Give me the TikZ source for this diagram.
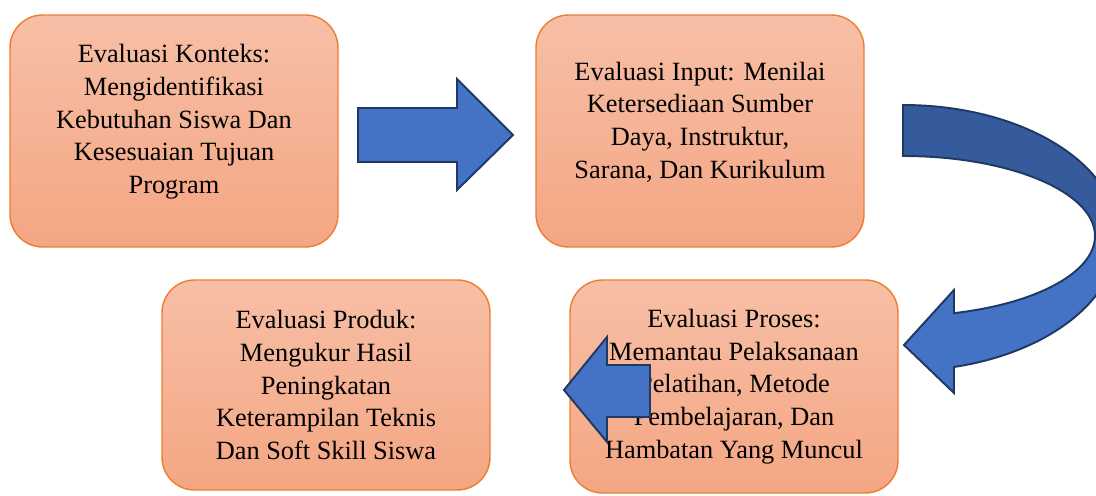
\documentclass[tikz,border=0pt]{standalone}
\usepackage{fontspec}
\setmainfont{Liberation Serif}
\definecolor{boxtop}{HTML}{F7BFA6}
\definecolor{boxbottom}{HTML}{F4A683}
\definecolor{boxline}{HTML}{ED7D31}
\definecolor{arrowblue}{HTML}{4472C4}
\definecolor{arrowdark}{HTML}{365B9C}
\definecolor{arrowline}{HTML}{203864}
\begin{document}
\begin{tikzpicture}[x=0.02cm, y=-0.02cm,
    box/.style={draw=boxline, line width=0.8pt, rounded corners=0.65cm,
      top color=boxtop, bottom color=boxbottom, minimum width=6.56cm, inner sep=0pt},
    txt/.style={align=center, font=\fontsize{15}{18.6}\selectfont},
    blockarrow/.style={fill=arrowblue, draw=arrowline, line width=1.1pt, line join=miter}]
  \useasboundingbox (0,0) rectangle (1096,496);

  % Evaluation boxes
  \node (konteks) [box, minimum height=4.64cm] at (174,131) {};
  \node (input)   [box, minimum height=4.64cm] at (700,131) {};
  \node (produk)  [box, minimum height=4.2cm]  at (326,385) {};
  \node (proses)  [box, minimum height=4.26cm] at (734,386.5) {};

  % Box texts
  \node (tkonteks) [txt] at ([yshift=0.18cm]konteks.center) {Evaluasi Konteks:\\Mengidentifikasi\\Kebutuhan Siswa Dan\\Kesesuaian Tujuan\\Program};
  \node (tinput) [txt] at ([yshift=0.18cm]input.center) {Evaluasi Input: Menilai\\Ketersediaan Sumber\\Daya, Instruktur,\\Sarana, Dan Kurikulum};
  \node (tproduk) [txt] at (produk.center) {Evaluasi Produk:\\Mengukur Hasil\\Peningkatan\\Keterampilan Teknis\\Dan Soft Skill Siswa};
  \node (tproses) [txt] at (proses.center) {Evaluasi Proses:\\Memantau Pelaksanaan\\Pelatihan, Metode\\Pembelajaran, Dan\\Hambatan Yang Muncul};

  % Block arrows
  \draw[blockarrow] (358,108) -- (457,108) -- (457,79) -- (513,135) -- (457,190)
    -- (457,162) -- (358,162) -- cycle;
  \draw[blockarrow] (650,365) -- (607,365) -- (607,337) -- (564,390) -- (607,442)
    -- (607,417) -- (650,417) -- cycle;

  % Curved arrow
  \draw[blockarrow, fill=arrowdark] (903,105)
    arc[start angle=-90, end angle=0, x radius=215, y radius=131]
    -- (1095,236) arc[start angle=0, end angle=-90, x radius=192, y radius=80] -- cycle;
  \draw[blockarrow] (1095,236)
    arc[start angle=0, end angle=74.6, x radius=192, y radius=80]
    -- (954,290) -- (904,345) -- (954,393) -- (954,367)
    arc[start angle=76.3, end angle=0, x radius=215, y radius=135] -- cycle;
\end{tikzpicture}
\end{document}
